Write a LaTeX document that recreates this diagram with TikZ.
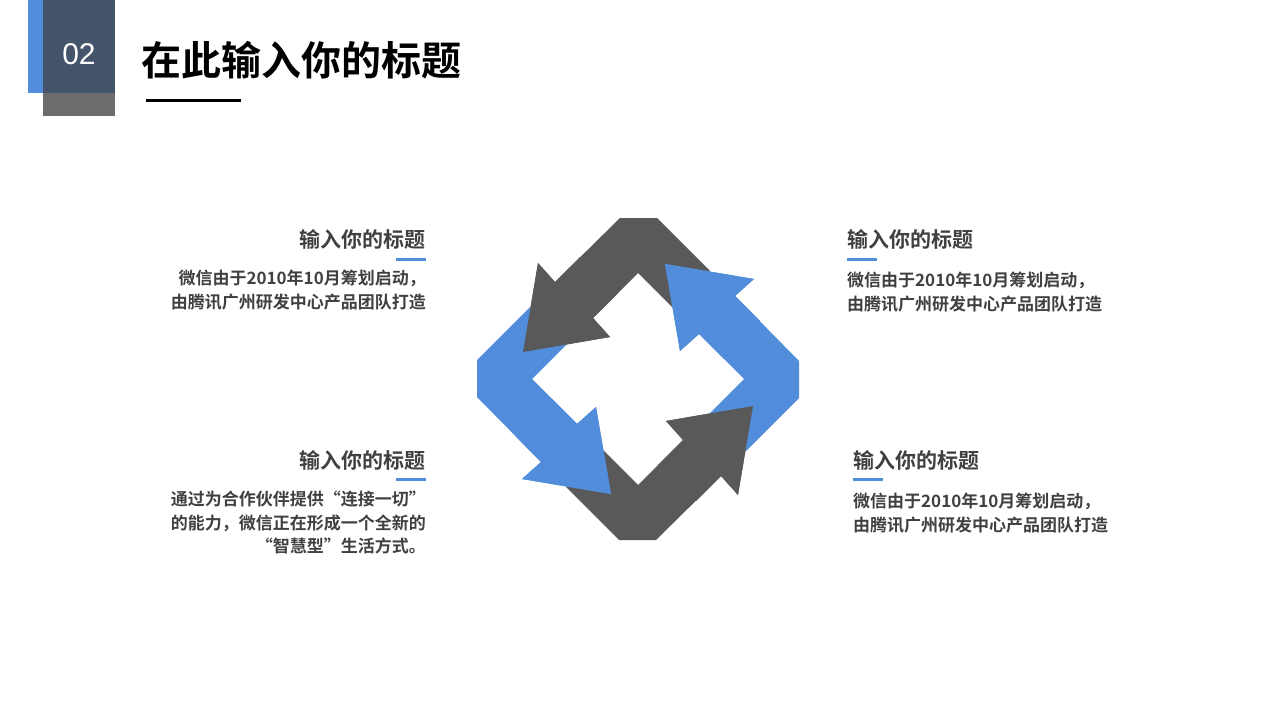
\documentclass[tikz,border=0pt]{standalone}
\usepackage{fontspec}
\setmainfont{Liberation Sans}
\newfontfamily\cjk{Noto Sans CJK SC}[BoldFont={* Bold}]
\definecolor{arrowblue}{HTML}{528DDB}
\definecolor{arrowgrey}{HTML}{595959}
\definecolor{navy}{HTML}{44546A}
\definecolor{txtgrey}{HTML}{404040}
\tikzset{
  heading/.style={font=\cjk\bfseries\fontsize{21}{24}\selectfont, text=txtgrey, inner sep=0pt},
  body/.style={font=\cjk\bfseries\fontsize{17}{23.5}\selectfont, text=txtgrey, inner sep=0pt},
  bar/.style={arrowblue, line width=3pt}
}
\newcommand{\fullarrow}{(-18,-161) -- (19,-161) -- (72,-108) -- (35,-71) -- (0,-106) -- (-45,-61) -- (-28,-42) -- (-115,-27) -- (-100,-116) -- (-83,-97) -- cycle}
\newcommand{\headarrow}{(-83,-97) -- (-100,-116) -- (-115,-27) -- (-28,-42) -- (-45,-61) -- (-20,-86) -- (-58,-122) -- cycle}
\begin{document}
\begin{tikzpicture}[x=1pt,y=-1pt]
\useasboundingbox (0,0) rectangle (1280,720);
% header
\fill[arrowblue] (28,0) rectangle (43,93);
\fill[navy] (43,0) rectangle (115,93);
\fill[gray!85!black] (43,93) rectangle (115,116);
\node[text=white, font=\fontsize{30}{30}\selectfont] (num) at (79,54) {02};
\node[anchor=west, inner sep=0pt, font=\cjk\bfseries\fontsize{40}{44}\selectfont] (title) at (141,60) {在此输入你的标题};
\draw[line width=3pt] (146,100) -- (241,100);
% cycle of arrows
\begin{scope}[shift={(638,379)}]
  \fill[arrowgrey] \fullarrow;
  \fill[arrowgrey, rotate=180] \fullarrow;
  \fill[arrowblue, rotate=-90] \fullarrow;
  \fill[arrowblue, rotate=90] \fullarrow;
  \fill[arrowgrey] \headarrow;
  \fill[arrowgrey, rotate=180] \headarrow;
  \fill[arrowblue, rotate=-90] \headarrow;
  \fill[arrowblue, rotate=90] \headarrow;
\end{scope}
% top left
\node[heading, anchor=east] (h1) at (426,239) {输入你的标题};
\draw[bar] (396,259) -- (426,259);
\node[body, anchor=north east, align=right] (b1) at (426,270) {微信由于2010年10月筹划启动，\\由腾讯广州研发中心产品团队打造};
% top right
\node[heading, anchor=west] (h2) at (847,239) {输入你的标题};
\draw[bar] (847,259) -- (877,259);
\node[body, anchor=north west, align=left] (b2) at (847,272) {微信由于2010年10月筹划启动，\\由腾讯广州研发中心产品团队打造};
% bottom left
\node[heading, anchor=east] (h3) at (426,460) {输入你的标题};
\draw[bar] (396,479) -- (426,479);
\node[body, anchor=north east, align=right] (b3) at (426,491) {通过为合作伙伴提供“连接一切”\\的能力，微信正在形成一个全新的\\“智慧型”生活方式。};
% bottom right
\node[heading, anchor=west] (h4) at (853,460) {输入你的标题};
\draw[bar] (853,479) -- (883,479);
\node[body, anchor=north west, align=left] (b4) at (853,493) {微信由于2010年10月筹划启动，\\由腾讯广州研发中心产品团队打造};
\end{tikzpicture}
\end{document}
